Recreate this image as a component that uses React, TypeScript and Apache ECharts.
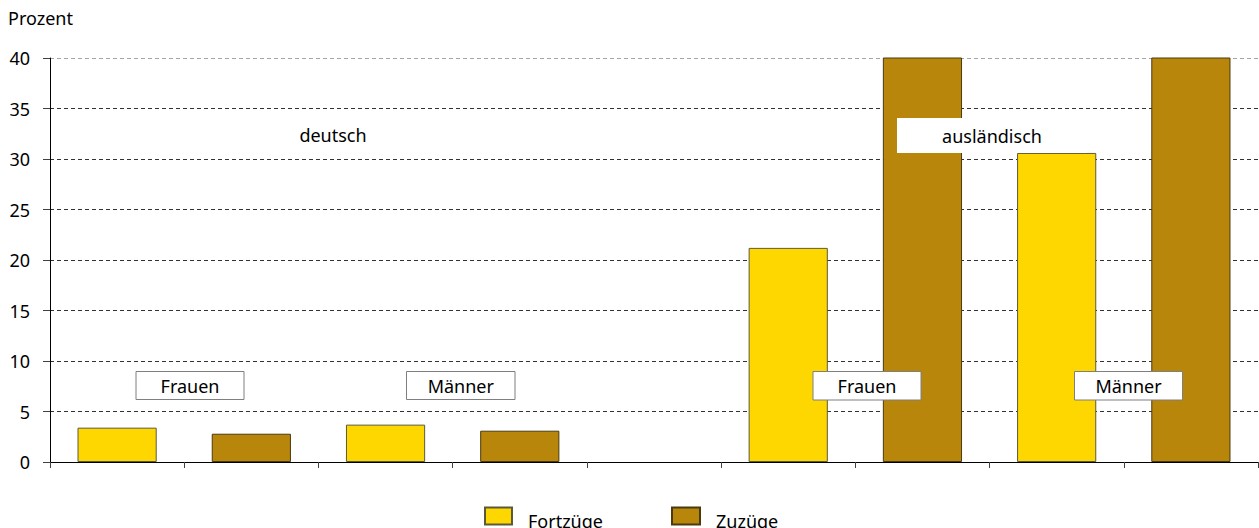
import React, { useEffect, useRef } from "react";
import * as echarts from "echarts";

const categories = [
  "deutsch Frauen Fortzüge",
  "deutsch Frauen Zuzüge",
  "deutsch Männer Fortzüge",
  "deutsch Männer Zuzüge",
  "",
  "ausländisch Frauen Fortzüge",
  "ausländisch Frauen Zuzüge",
  "ausländisch Männer Fortzüge",
  "ausländisch Männer Zuzüge",
];
const fortzuege: (number | string)[] = [3.4, "-", 3.7, "-", "-", 21.2, "-", 30.6, "-"];
const zuzuege: (number | string)[] = ["-", 2.8, "-", 3.1, "-", "-", 46.0, "-", 44.0];
const yTicks = { min: 0, max: 40, interval: 5 };
const seriesNames = ["Fortzüge", "Zuzüge"];
const boxLabels = ["Frauen", "Männer", "Frauen", "Männer"];
const groupLabels = ["deutsch", "ausländisch"];

const FONT = "Noto Sans";

export default function App() {
  const ref = useRef<HTMLDivElement>(null);
  useEffect(() => {
    if (!ref.current) return;
    const chart = echarts.init(ref.current, undefined, { renderer: "svg" });
    const boxes = [
      { x: 136, y: 371.5, w: 108, h: 28 },
      { x: 406.5, y: 371.5, w: 108.5, h: 28 },
      { x: 813, y: 371.5, w: 108, h: 28.5 },
      { x: 1074.5, y: 371.5, w: 108, h: 28.5 },
    ];
    const gridColors = ["#333", "#333", "#333", "#333", "#333", "#333", "#333", "#333", "#a6a6a6"];
    const legendText = {
      fontFamily: FONT,
      fontSize: 18,
      color: "#000",
      padding: [0, 0, 0, 11],
      rich: {
        t: {
          fontFamily: FONT,
          fontSize: 18,
          color: "#000",
          lineHeight: 18,
          padding: [10, 0, 0, 0],
        },
      },
    };
    const legendBase = {
      top: 502,
      padding: 0,
      itemHeight: 17,
      icon: "rect",
      formatter: "{t|{name}}",
      textStyle: legendText,
    };
    chart.setOption({
      animation: false,
      textStyle: { fontFamily: FONT },
      grid: { left: 50, right: 1, top: 58, bottom: 66, containLabel: false },
      legend: [
        { ...legendBase, data: [seriesNames[0]], left: 484, itemWidth: 27 },
        { ...legendBase, data: [seriesNames[1]], left: 671, itemWidth: 28 },
      ],
      xAxis: {
        type: "category",
        data: categories,
        boundaryGap: true,
        axisLine: { show: true, lineStyle: { color: "#000", width: 1 } },
        axisTick: { show: true, interval: 0, length: 6, alignWithLabel: false, lineStyle: { color: "#404040" } },
        axisLabel: { show: false, interval: 0 },
        splitLine: { show: false },
      },
      yAxis: {
        type: "value",
        min: yTicks.min,
        max: yTicks.max,
        interval: yTicks.interval,
        axisLine: { show: true, lineStyle: { color: "#000", width: 1 } },
        axisTick: { show: true, length: 7, lineStyle: { color: "#404040" } },
        axisLabel: { margin: 20, fontSize: 18, color: "#000", fontFamily: FONT },
        splitLine: {
          show: true,
          lineStyle: { color: gridColors, type: [4, 3], width: 1 },
        },
      },
      series: [
        {
          name: seriesNames[0],
          type: "bar",
          data: fortzuege,
          barWidth: "59%",
          barGap: "-100%",
          clip: true,
          itemStyle: { color: "#FFD700", borderColor: "#5a5a3a", borderWidth: 1 },
        },
        {
          name: seriesNames[1],
          type: "bar",
          data: zuzuege,
          barWidth: "59%",
          barGap: "-100%",
          clip: true,
          itemStyle: { color: "#B8860B", borderColor: "#4a3a10", borderWidth: 1 },
        },
      ],
      graphic: [
        {
          type: "text",
          left: 8,
          top: 9,
          style: { text: "Prozent", fontFamily: FONT, fontSize: 18, fill: "#000" },
        },
        {
          type: "text",
          x: 333,
          y: 135,
          z: 100,
          style: {
            text: groupLabels[0],
            fontFamily: FONT,
            fontSize: 18,
            fill: "#000",
            align: "center",
            verticalAlign: "middle",
          },
        },
        {
          type: "rect",
          z: 100,
          shape: { x: 897, y: 118, width: 190, height: 35 },
          style: { fill: "#fff", stroke: null },
        },
        {
          type: "text",
          x: 992,
          y: 135.5,
          z: 101,
          style: {
            text: groupLabels[1],
            fontFamily: FONT,
            fontSize: 18,
            fill: "#000",
            align: "center",
            verticalAlign: "middle",
          },
        },
        ...boxes.flatMap((b, i) => [
          {
            type: "rect",
            z: 100,
            shape: { x: b.x, y: b.y, width: b.w, height: b.h },
            style: { fill: "#fff", stroke: "#7f7f7f", lineWidth: 1 },
          },
          {
            type: "text",
            z: 101,
            x: b.x + b.w / 2,
            y: b.y + b.h / 2,
            style: {
              text: boxLabels[i],
              fontFamily: FONT,
              fontSize: 18,
              fill: "#000",
              align: "center",
              verticalAlign: "middle",
            },
          },
        ]),
      ],
    });
    return () => chart.dispose();
  }, []);
  return (
    <div
      ref={ref}
      style={{ position: "absolute", left: 0, top: 0, width: 1259, height: 528, background: "#fff" }}
    />
  );
}
